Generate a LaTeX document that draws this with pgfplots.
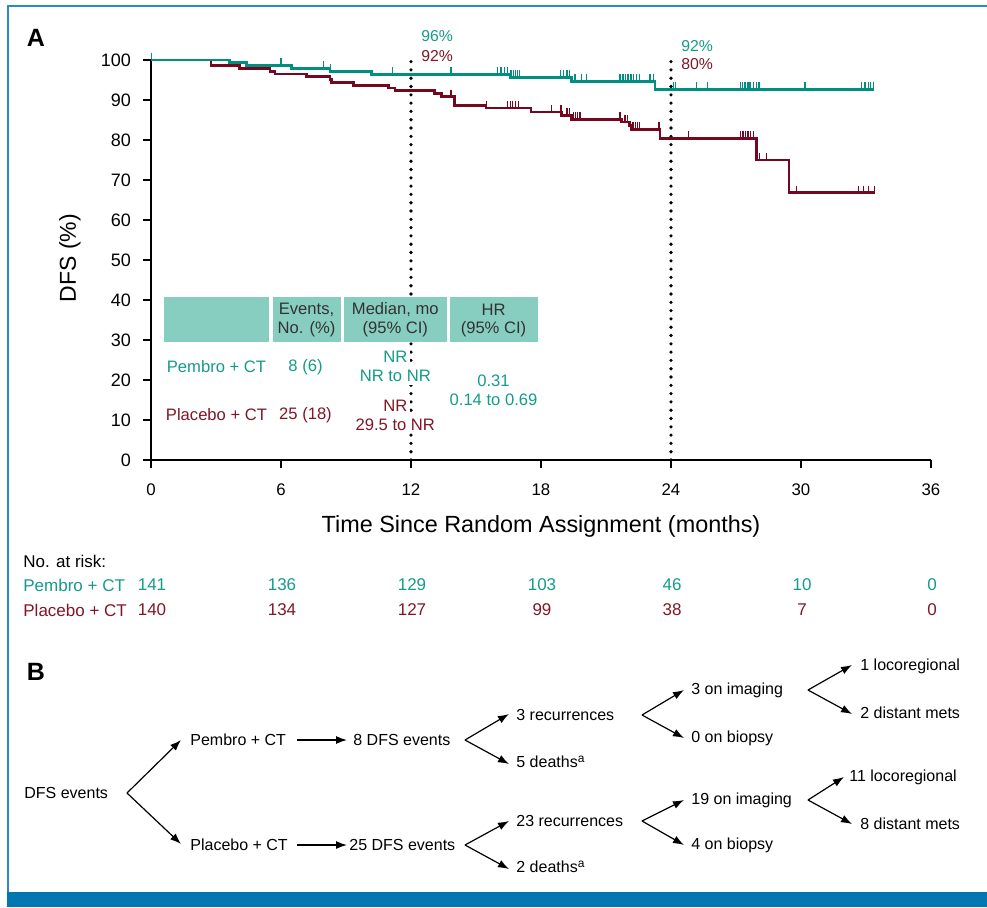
\documentclass[border=0pt]{standalone}
\usepackage{pgfplots}
\pgfplotsset{compat=1.18}
\usepackage{pgfplotstable}
\usepackage{fontspec}
\setmainfont{Liberation Sans}
\usetikzlibrary{arrows.meta}

\definecolor{tealline}{RGB}{0,143,128}
\definecolor{tealtext}{RGB}{20,155,138}
\definecolor{redline}{RGB}{117,8,30}
\definecolor{redtext}{RGB}{128,22,38}
\definecolor{hdrfill}{RGB}{136,206,192}
\definecolor{hdrtext}{RGB}{50,50,50}
\definecolor{framecol}{RGB}{40,138,200}
\definecolor{barcol}{RGB}{0,119,176}

\pgfplotstableread{
t s
0 100
3.61 99.3
4.39 98.6
6.49 97.9
8.26 97.1
10.18 96.4
16.57 95.6
19.40 94.7
23.26 92.6
33.35 92.6
}\pembro

\pgfplotstableread{
t s
0 100
2.77 98.6
4.10 97.9
5.49 97.2
5.72 96.5
7.18 95.8
8.26 95.1
8.34 94.4
9.34 93.7
10.95 93.0
11.26 92.3
13.08 91.6
13.42 90.8
14.00 88.7
15.46 88.0
17.54 87.0
18.95 86.2
19.41 85.2
21.72 84.5
22.10 83.7
22.18 82.6
23.49 80.4
27.95 75.0
29.45 66.8
33.40 66.8
}\placebo

\pgfplotstableread{
t s
0.03 100
6.0 98.6
7.95 97.9
8.3 97.1
11.14 96.4
13.85 96.4
16.0 96.4
16.15 96.4
16.3 96.4
16.45 96.4
16.62 95.6
16.72 95.6
16.82 95.6
16.92 95.6
17.02 95.6
18.9 95.6
19.05 95.6
19.2 95.6
19.32 95.6
19.57 94.7
19.88 94.7
20.1 94.7
21.65 94.7
21.78 94.7
21.9 94.7
22.02 94.7
22.15 94.7
22.28 94.7
22.4 94.7
22.55 94.7
23.03 94.7
23.18 94.7
24.1 92.6
24.2 92.6
25.18 92.6
25.69 92.6
27.2 92.6
27.3 92.6
27.42 92.6
27.55 92.6
27.65 92.6
27.8 92.6
27.95 92.6
28.06 92.6
30.18 92.6
32.8 92.6
32.95 92.6
33.1 92.6
33.22 92.6
33.34 92.6
}\pembrocens

\pgfplotstableread{
t s
13.85 90.8
15.5 88.0
16.46 88.0
16.58 88.0
16.7 88.0
16.82 88.0
16.95 88.0
18.49 87.0
18.92 87.0
19.2 86.2
19.3 86.2
19.5 85.2
19.6 85.2
19.7 85.2
19.8 85.2
21.65 85.2
21.88 84.5
22.0 84.5
22.25 82.6
22.35 82.6
22.45 82.6
22.55 82.6
23.45 82.6
24.8 80.4
27.2 80.4
27.32 80.4
27.44 80.4
27.56 80.4
27.68 80.4
27.8 80.4
28.0 75.0
28.1 75.0
28.4 75.0
29.8 66.8
32.65 66.8
32.9 66.8
33.1 66.8
33.38 66.8
}\placebocens

\begin{document}
\begin{tikzpicture}
\useasboundingbox (0,0) rectangle (493.5pt,-453.5pt);
\begin{axis}[
  at={(75.5pt,-230pt)}, anchor=south west,
  scale only axis, width=390pt, height=200pt,
  xmin=0, xmax=36, ymin=0, ymax=100,
  axis lines*=left,
  axis line style={line width=0.6pt, black, -},
  xtick={0,6,...,36}, ytick={0,10,...,100},
  tick align=outside, major tick length=4pt,
  tick style={line width=0.6pt, black},
  /pgf/number format/assume math mode=true,
  xticklabel style={font=\fontsize{8.4}{10}\selectfont, yshift=-4.3pt},
  yticklabel style={font=\fontsize{9}{10.8}\selectfont, xshift=-2.5pt},
  clip=false,
]
\draw[black, line width=1.8pt, line cap=round, dash pattern=on 0pt off 4.15pt]
  (axis cs:12,0) -- (axis cs:12,100.8);
\draw[black, line width=1.8pt, line cap=round, dash pattern=on 0pt off 4.15pt]
  (axis cs:24,0) -- (axis cs:24,100.8);
\addplot[const plot, redline, line width=1.4pt] table[x=t,y=s]{\placebo};
\addplot[const plot, tealline, line width=1.4pt] table[x=t,y=s]{\pembro};
\addplot[only marks, mark=|, mark size=1.8pt, redline,
  mark options={yshift=1.8pt, line width=0.65pt}] table[x=t,y=s]{\placebocens};
\addplot[only marks, mark=|, mark size=1.8pt, tealline,
  mark options={yshift=1.8pt, line width=0.65pt}] table[x=t,y=s]{\pembrocens};
\end{axis}

\begin{scope}[x=0.5pt,y=-0.5pt]
% frame
\draw[framecol, line width=1pt] (7.5,892) -- (7.5,5.5) -- (987,5.5);
\fill[barcol] (7,892) rectangle (987,907);

% panel A labels
\node[font=\fontsize{12.5}{15}\selectfont\bfseries] at (36,38) {A};
\node[font=\fontsize{11.5}{13}\selectfont, rotate=90] at (70,258) {DFS (\%)};
\node[font=\fontsize{11.7}{14}\selectfont] at (541,526) {Time Since Random Assignment (months)};

\node[font=\fontsize{7.9}{9.5}\selectfont, tealtext, anchor=west, inner sep=0] at (421,36) {96\%};
\node[font=\fontsize{7.9}{9.5}\selectfont, redtext, anchor=west, inner sep=0] at (421,56) {92\%};
\node[font=\fontsize{7.9}{9.5}\selectfont, tealtext, anchor=west, inner sep=0] at (681,46) {92\%};
\node[font=\fontsize{7.9}{9.5}\selectfont, redtext, anchor=west, inner sep=0] at (681,64) {80\%};

% table
\fill[hdrfill] (164,297) rectangle (269,342);
\fill[hdrfill] (273,297) rectangle (340.5,342);
\fill[hdrfill] (344,297) rectangle (446.5,342);
\fill[hdrfill] (449.5,297) rectangle (538,342);
\begin{scope}[every node/.style={font=\fontsize{8.3}{10}\selectfont, inner sep=0}]
\node[hdrtext] at (306.5,309.5) {Events,};
\node[hdrtext] at (306.5,329.5) {No. (\%)};
\node[hdrtext] at (395.3,309.5) {Median, mo};
\node[hdrtext] at (395.3,329.5) {(95\% CI)};
\node[hdrtext] at (493.5,309.5) {HR};
\node[hdrtext] at (493.5,329.5) {(95\% CI)};
\node[tealtext] at (216.5,367) {Pembro + CT};
\node[tealtext] at (305.5,367) {8 (6)};
\node[tealtext, fill=white, inner sep=1.5pt] at (395.3,357) {NR};
\node[tealtext, fill=white, inner sep=1.5pt] at (395.3,376) {NR to NR};
\node[tealtext] at (493.5,381) {0.31};
\node[tealtext] at (493.5,399.5) {0.14 to 0.69};
\node[redtext] at (216.5,415) {Placebo + CT};
\node[redtext] at (305.5,415) {25 (18)};
\node[redtext, fill=white, inner sep=1.5pt] at (395.3,405.5) {NR};
\node[redtext, fill=white, inner sep=1.5pt] at (395.3,424.5) {29.5 to NR};
\end{scope}

% at risk
\begin{scope}[every node/.style={font=\fontsize{8.5}{10}\selectfont, inner sep=0}]
\node[anchor=west] at (23,561) {No. at risk:};
\node[anchor=west, tealtext] at (23,585) {Pembro + CT};
\node[anchor=west, redtext] at (23,610) {Placebo + CT};
\foreach \xx/\a/\b in {151/141/140, 281/136/134, 411/129/127, 541/103/99, 671/46/38, 801/10/7, 931/0/0}{
  \node[tealtext] at (\xx+1,585) {\a};
  \node[redtext] at (\xx+1,610) {\b};
}
\end{scope}

% panel B
\node[font=\fontsize{12.5}{15}\selectfont\bfseries] at (36,672) {B};
\begin{scope}[every node/.style={font=\fontsize{8}{9.6}\selectfont, inner sep=0, anchor=west},
  arr/.style={-{Latex[length=5.5pt,width=4pt]}, line width=0.6pt, black}]
\node at (24,793) {DFS events};
\draw[arr] (127,793) -- (181,740);
\draw[arr] (127,793) -- (181,844);
\node at (190,740) {Pembro + CT};
\draw[arr] (297,740) -- (347,740);
\node at (353,740) {8 DFS events};
\draw[arr] (465,740) -- (509,714);
\draw[arr] (465,740) -- (509,764);
\node at (516,715) {3 recurrences};
\node at (516,762) {5 deaths\textsuperscript{a}};
\draw[arr] (642,715) -- (684,690);
\draw[arr] (642,715) -- (684,738);
\node at (691,690) {3 on imaging};
\node at (691,738) {0 on biopsy};
\draw[arr] (808,690) -- (852,665);
\draw[arr] (808,690) -- (852,714);
\node at (860,666) {1 locoregional};
\node at (860,713) {2 distant mets};

\node at (190,845) {Placebo + CT};
\draw[arr] (297,845) -- (347,845);
\node at (349,845) {25 DFS events};
\draw[arr] (465,845) -- (509,821);
\draw[arr] (465,845) -- (509,869);
\node at (516,821) {23 recurrences};
\node at (516,867) {2 deaths\textsuperscript{a}};
\draw[arr] (642,821) -- (684,800);
\draw[arr] (642,821) -- (684,845);
\node at (691,800) {19 on imaging};
\node at (691,845) {4 on biopsy};
\draw[arr] (808,800) -- (844,777);
\draw[arr] (808,800) -- (852,824);
\node at (849,777) {11 locoregional};
\node at (860,824) {8 distant mets};
\end{scope}
\end{scope}
\end{tikzpicture}
\end{document}
